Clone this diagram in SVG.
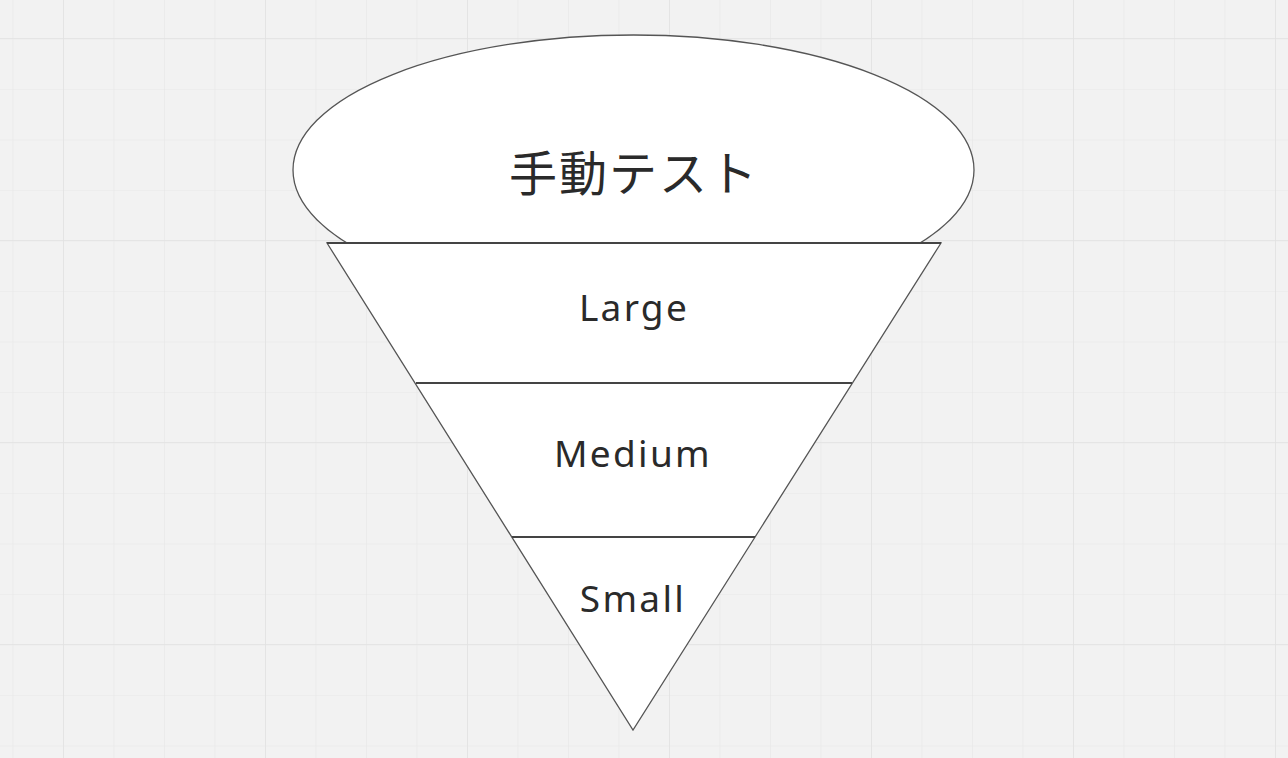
<svg xmlns="http://www.w3.org/2000/svg" width="1288" height="758" viewBox="0 0 1288 758">
<defs>
<pattern id="minor" x="12.5" y="-12" width="50.5" height="50.5" patternUnits="userSpaceOnUse">
<path d="M0 0H50.5M0 0V50.5" fill="none" stroke="#e7e7e7" stroke-width="1.2"/>
</pattern>
<pattern id="major" x="63" y="38" width="202" height="202" patternUnits="userSpaceOnUse">
<path d="M0 0H202M0 0V202" fill="none" stroke="#e2e2e2" stroke-width="1.6"/>
</pattern>
</defs>
<style>
.shape{fill:#ffffff;stroke:#555555;stroke-width:1.3}
.div{stroke:#444444;stroke-width:2;fill:none}
.lbl{font-family:"Noto Sans","Open Sans","Noto Sans CJK JP",sans-serif;fill:#2a2a2a;text-anchor:middle;letter-spacing:2.3px}
</style>
<rect width="1288" height="758" fill="#f2f2f2"/>
<rect width="1288" height="758" fill="url(#minor)"/>
<rect width="1288" height="758" fill="url(#major)"/>
<g id="manual">
<ellipse class="shape" cx="633.5" cy="170" rx="340.5" ry="135"/>
<text class="lbl" x="634" y="191" font-size="48" font-family="'Noto Sans CJK JP',sans-serif" style="letter-spacing:2px">手動テスト</text>
</g>
<g id="funnel">
<polygon class="shape" points="327,243 941,243 633,730"/>
</g>
<g id="connectors">
<line class="div" x1="327" y1="243" x2="941" y2="243" stroke-width="1.5"/>
<line class="div" x1="416" y1="383" x2="852" y2="383"/>
<line class="div" x1="512" y1="537" x2="755" y2="537"/>
</g>
<g id="large"><text class="lbl" x="634" y="321" font-size="37">Large</text></g>
<g id="medium"><text class="lbl" x="633" y="467" font-size="37">Medium</text></g>
<g id="small"><text class="lbl" x="633" y="612" font-size="37">Small</text></g>
</svg>
